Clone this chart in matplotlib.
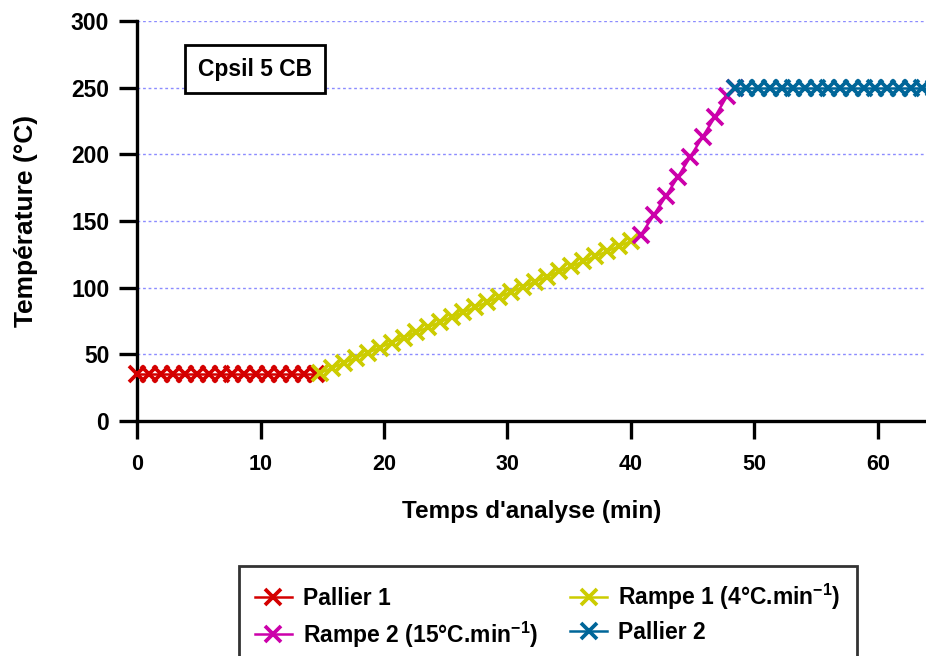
import matplotlib
matplotlib.use("Agg")
import matplotlib.pyplot as plt

plt.rcParams['font.family'] = ['Liberation Sans', 'DejaVu Sans']
plt.rcParams['font.weight'] = 'bold'
plt.rcParams['mathtext.fontset'] = 'custom'
plt.rcParams['mathtext.rm'] = 'Liberation Sans:bold'
plt.rcParams['mathtext.bf'] = 'Liberation Sans:bold'
plt.rcParams['mathtext.default'] = 'bf'

# temps (min) / temperature (°C) for each step of the oven programme
p1_t = [0, 0.97, 1.93, 2.9, 3.87, 4.83, 5.8, 6.77, 7.73, 8.7, 9.67, 10.63, 11.6, 12.57, 13.53, 14.5]
p1_T = [35] * len(p1_t)

r1_t = [14.8, 15.77, 16.74, 17.71, 18.68, 19.65, 20.62, 21.59, 22.56, 23.53, 24.5, 25.47, 26.44,
        27.41, 28.38, 29.35, 30.32, 31.29, 32.26, 33.23, 34.2, 35.17, 36.14, 37.11, 38.08, 39.05, 40.02]
r1_T = [36, 39.8, 43.6, 47.4, 51.2, 55.1, 58.9, 62.7, 66.5, 70.3, 74.1, 77.9, 81.7,
        85.5, 89.3, 93.2, 97.0, 100.8, 104.6, 108.4, 112.2, 116.0, 119.8, 123.6, 127.4, 131.2, 135]

r2_t = [40.8, 41.85, 42.85, 43.8, 44.8, 45.8, 46.8, 47.8, 48.4]
r2_T = [139.5, 154.5, 169, 183, 198, 213, 228, 244, 250]

p2_t = [48.4, 49.35, 50.3, 51.25, 52.2, 53.15, 54.1, 55.05, 56.0, 56.95, 57.9, 58.85,
        59.8, 60.75, 61.7, 62.65, 63.6, 64.55]
p2_T = [250] * len(p2_t)

labels = ['Pallier 1', r'Rampe 1 (4°C.min$^{-1}$)', r'Rampe 2 (15°C.min$^{-1}$)', 'Pallier 2']
colors = ['#d40000', '#cccc00', '#cc00aa', '#006699']

fig = plt.figure(figsize=(9.26, 6.56), dpi=100)
ax = fig.add_axes([0.148, 0.358, 0.852, 0.61])

series = [(p1_t, p1_T), (r1_t, r1_T), (r2_t, r2_T), (p2_t, p2_T)]
handles = []
for (t, T), c, lab in zip(series, colors, labels):
    h, = ax.plot(t, T, color=c, lw=1.8, marker='x', ms=11, mew=2.7, label=lab, clip_on=False, zorder=3)
    handles.append(h)

ax.set_xlim(0, 63.9)
ax.set_ylim(0, 300)
ax.set_xticks([0, 10, 20, 30, 40, 50, 60])
ax.set_yticks([0, 50, 100, 150, 200, 250, 300])
ax.yaxis.grid(True, color='#8c8cff', linestyle=(0, (2, 2)), linewidth=1)
ax.set_axisbelow(True)

for s in ['top', 'right']:
    ax.spines[s].set_visible(False)
for s in ['left', 'bottom']:
    ax.spines[s].set_linewidth(2.4)
ax.tick_params(direction='out', width=2.4, length=13)
ax.tick_params(axis='y', labelsize=16.5, pad=7)
ax.tick_params(axis='x', labelsize=15.5, pad=11)

ax.set_xlabel("Temps d'analyse (min)", fontsize=17.5, fontweight='bold', labelpad=18)
ax.set_ylabel('Température (°C)', fontsize=19, fontweight='bold', labelpad=24)

ax.text(0.1496, 0.88, 'Cpsil 5 CB', transform=ax.transAxes, ha='center', va='center', fontsize=16.5,
        fontweight='bold', bbox=dict(boxstyle='square,pad=0.55', fc='white', ec='black', lw=2))

leg = fig.legend([handles[0], handles[2], handles[1], handles[3]],
                 [labels[0], labels[2], labels[1], labels[3]],
                 ncol=2, loc='upper left', bbox_to_anchor=(239 / 926, 1 - 566 / 656),
                 fontsize=16.5, frameon=True, fancybox=False, edgecolor='black',
                 borderpad=0.7, labelspacing=0.4, columnspacing=1.4, handlelength=1.6,
                 handletextpad=0.5, borderaxespad=0)
leg.get_frame().set_linewidth(2)

fig.savefig('out.png', dpi=100)
